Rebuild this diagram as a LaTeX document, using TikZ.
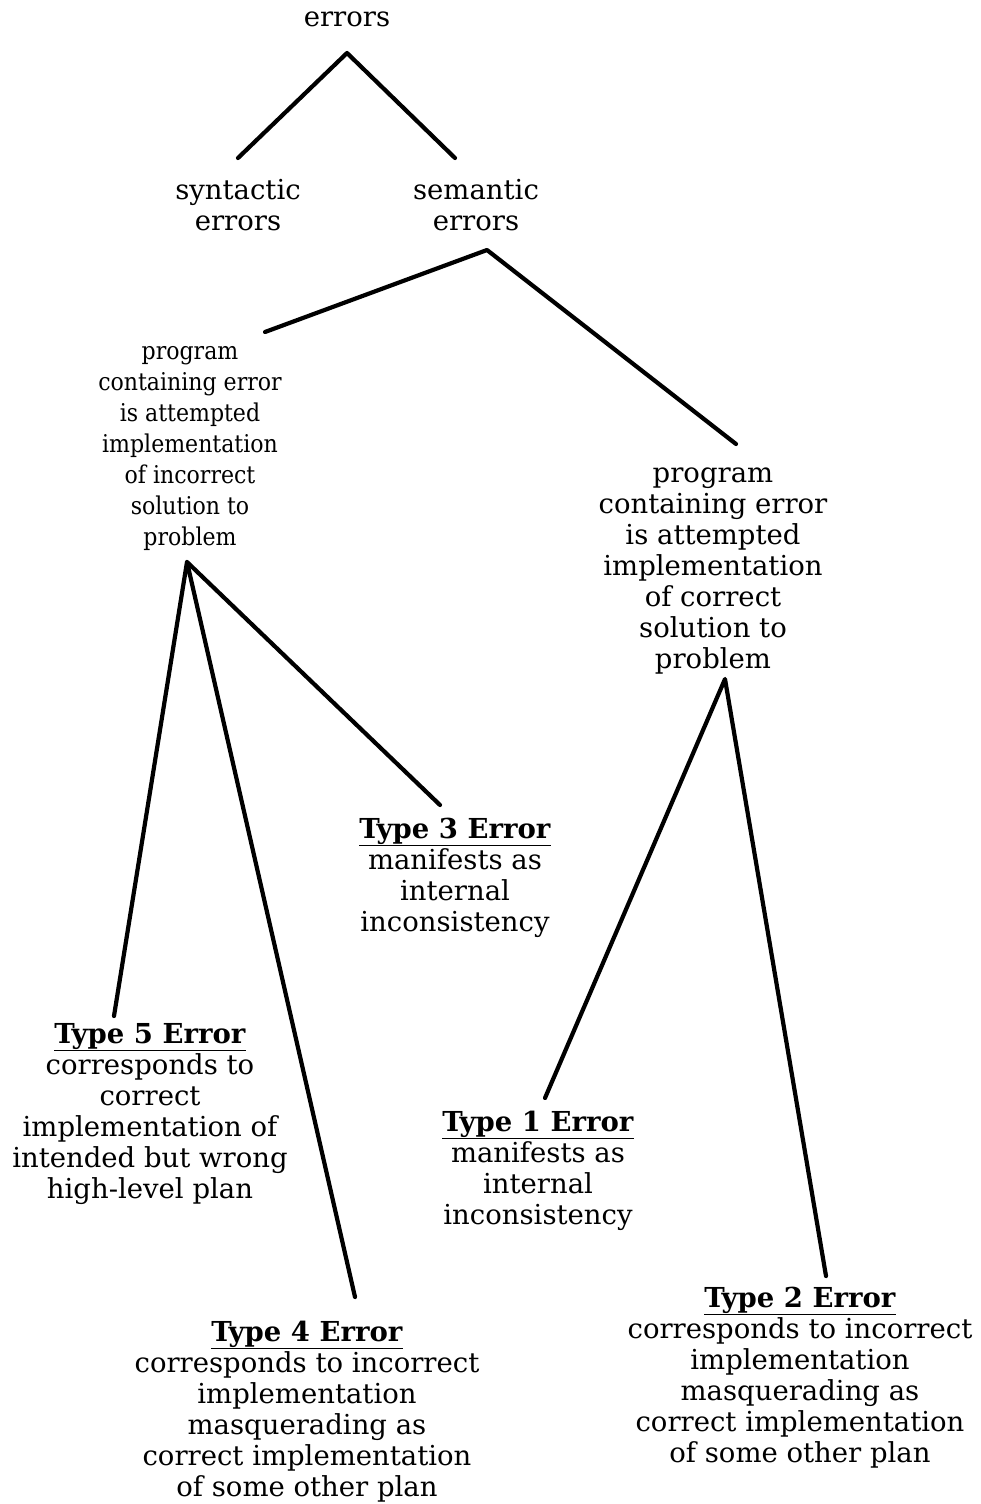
\documentclass[tikz,border=0pt]{standalone}
\usepackage{fontspec}
\setmainfont{DejaVu Serif}
\newfontfamily\narrowserif[FakeStretch=0.9]{DejaVu Serif}
\begin{document}
\begin{tikzpicture}[x=1pt,y=-1pt,
  lbl/.style={anchor=base,align=center,inner sep=0pt,
    font=\fontsize{27.5}{31}\selectfont},
  narrow/.style={font=\fontsize{24.5}{31}\narrowserif},
  edge/.style={line width=4.2pt,line cap=round,line join=round}]
\useasboundingbox (0,0) rectangle (980,1504);
\newcommand\hdr[1]{\underline{\textbf{#1}}}

% text blocks (anchored at the baseline of their last line)
\node[lbl] (err) at (347,27) {errors};
\node[lbl] (syn) at (238,230) {syntactic\\errors};
\node[lbl] (sem) at (476,230) {semantic\\errors};
\node[lbl,narrow] (inc) at (190,545) {program\\containing error\\is attempted\\implementation\\of incorrect\\solution to\\problem};
\node[lbl] (cor) at (713,668) {program\\containing error\\is attempted\\implementation\\of correct\\solution to\\problem};
\node[lbl] (t3) at (455,931) {\hdr{Type 3 Error}\\manifests as\\internal\\inconsistency};
\node[lbl] (t5) at (150,1198) {\hdr{Type 5 Error}\\corresponds to\\correct\\implementation of\\intended but wrong\\high-level plan};
\node[lbl] (t1) at (538,1224) {\hdr{Type 1 Error}\\manifests as\\internal\\inconsistency};
\node[lbl] (t4) at (307,1496) {\hdr{Type 4 Error}\\corresponds to incorrect\\implementation\\masquerading as\\correct implementation\\of some other plan};
\node[lbl] (t2) at (800,1462) {\hdr{Type 2 Error}\\corresponds to incorrect\\implementation\\masquerading as\\correct implementation\\of some other plan};

% branch points and branch ends
\coordinate (errA) at (347,53);
\coordinate (synE) at (238,158);
\coordinate (semE) at (455,158);
\coordinate (semA) at (487,250);
\coordinate (incE) at (265,332);
\coordinate (corE) at (736,444);
\coordinate (incA) at (187,562);
\coordinate (t5E) at (114,1016);
\coordinate (t4E) at (355,1297);
\coordinate (t3E) at (440,805);
\coordinate (corA) at (725,679);
\coordinate (t1E) at (545,1098);
\coordinate (t2E) at (826,1276);

% connectors
\draw[edge] (synE) -- (errA) -- (semE);
\draw[edge] (incE) -- (semA) -- (corE);
\draw[edge] (t5E) -- (incA) -- (t4E);
\draw[edge] (incA) -- (t3E);
\draw[edge] (t1E) -- (corA) -- (t2E);
\end{tikzpicture}
\end{document}
